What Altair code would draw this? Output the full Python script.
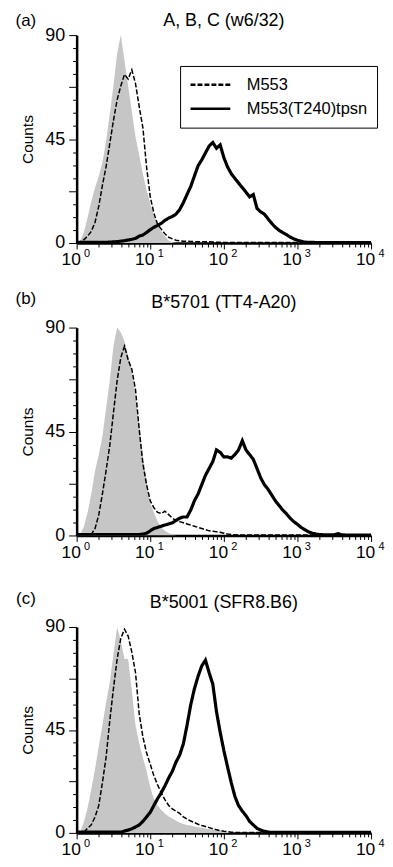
import altair as alt
import pandas as pd

FONT = "Liberation Sans"

# Channel positions on the log axis (fluorescence intensity, 10^0 .. 10^4)
X = [1.00, 1.12, 1.26, 1.41, 1.58, 1.78, 2.00, 2.24, 2.51, 2.82,
     3.16, 3.55, 3.98, 4.47, 5.01, 5.62, 6.31, 7.08, 7.94, 8.91,
     10.0, 11.2, 12.6, 14.1, 15.8, 17.8, 20.0, 22.4, 25.1, 28.2,
     31.6, 35.5, 39.8, 44.7, 50.1, 56.2, 63.1, 70.8, 79.4, 89.1,
     100, 112, 126, 141, 158, 178, 200, 224, 251, 282,
     316, 355, 398, 447, 501, 562, 631, 708, 794, 891,
     1000, 1122, 1259, 1413, 1585, 1778, 1995, 2239, 2512, 2818,
     3162, 3548, 3981, 4467, 5012, 5623, 6310, 7079, 7943, 8913,
     10000]

# Panel (a)
A_GRAY = [0, 1, 5, 11, 18, 24, 29, 35, 44, 56,
          68, 82, 90, 79, 68, 57, 46, 38, 30, 23,
          17, 12, 8, 5, 3, 1, 0.3, 0, 0, 0,
          0, 0, 0, 0, 0, 0, 0, 0, 0, 0,
          0, 0, 0, 0, 0, 0, 0, 0, 0, 0,
          0, 0, 0, 0, 0, 0, 0, 0, 0, 0,
          0, 0, 0, 0, 0, 0, 0, 0, 0, 0,
          0, 0, 0, 0, 0, 0, 0, 0, 0, 0,
          0]
A_M553 = [0.5, 0.5, 1.5, 3, 5, 9, 16, 25, 33, 43,
          53, 62, 68, 73, 71, 75, 69, 59, 50, 33,
          20, 13, 8, 6, 4, 2.5, 1.8, 1.2, 1, 0.8,
          0.8, 0.7, 0.6, 0.5, 0.5, 0.5, 0.5, 0.4, 0.3, 0.3,
          0.2, 0.2, 0.2, 0.2, 0.2, 0.2, 0.2, 0.2, 0.2, 0.2,
          0.2, 0.2, 0.2, 0.2, 0.2, 0.2, 0.2, 0.2, 0.2, 0.2,
          0.2, 0.2, 0.2, 0.2, 0.2, 0.2, 0.2, 0.2, 0.2, 0.2,
          0.2, 0.2, 0.2, 0.2, 0.2, 0.2, 0.2, 0.2, 0.2, 0.2,
          0.2]
A_TPSN = [0.3, 0.3, 0.3, 0.3, 0.3, 0.3, 0.3, 0.3, 0.3, 0.4,
          0.5, 0.6, 0.8, 1, 1.3, 1.6, 2, 3, 3.5, 4.5,
          5.8, 6.8, 7.6, 8.5, 9.8, 10.8, 11.5, 12.5, 14.5, 17.5,
          21, 24.5, 29, 33.5, 36, 39, 42, 43.5, 41, 42.5,
          37, 33, 30, 28, 26, 24, 22, 20, 21, 15,
          13.5, 12.5, 10.5, 8.5, 6.8, 5.5, 4.5, 3.6, 2.6, 1.8,
          1.2, 0.8, 0.4, 0.3, 0.3, 0.2, 0.2, 0.2, 0.2, 0.2,
          0.2, 0.2, 0.2, 0.2, 0.2, 0.2, 0.2, 0.2, 0.2, 0.2,
          0.2]

# Panel (b)
B_GRAY = [0, 0.5, 4, 10, 18, 28, 35, 43, 55, 67,
          82, 90, 88, 84, 78, 72, 60, 48, 35, 24,
          14, 10, 6, 3.5, 2, 1, 0.5, 0, 0, 0,
          0, 0, 0, 0, 0, 0, 0, 0, 0, 0,
          0, 0, 0, 0, 0, 0, 0, 0, 0, 0,
          0, 0, 0, 0, 0, 0, 0, 0, 0, 0,
          0, 0, 0, 0, 0, 0, 0, 0, 0, 0,
          0, 0, 0, 0, 0, 0, 0, 0, 0, 0,
          0]
B_M553 = [0.3, 0.3, 0.3, 0.3, 0.5, 3, 9, 18, 28, 39,
          53, 67, 77, 82, 76, 72, 63, 46, 31, 22,
          15, 12, 10, 9.5, 10.5, 9, 7.5, 6.5, 6, 5.5,
          5, 4.5, 4, 3.5, 3, 2.5, 2, 1.8, 1.6, 1.4,
          1, 0.6, 0.4, 0.3, 0.2, 0.2, 0.2, 0.2, 0.2, 0.2,
          0.2, 0.2, 0.2, 0.2, 0.2, 0.2, 0.2, 0.2, 0.2, 0.2,
          0.2, 0.2, 0.2, 0.2, 0.2, 0.2, 0.2, 0.2, 0.2, 0.2,
          0.2, 0.2, 0.2, 0.2, 0.2, 0.2, 0.2, 0.2, 0.2, 0.2,
          0.2]
B_TPSN = [0.4, 0.4, 0.4, 0.4, 0.4, 0.4, 0.4, 0.4, 0.4, 0.4,
          0.4, 0.4, 0.4, 0.4, 0.4, 0.4, 0.4, 0.4, 0.6, 1,
          2, 3, 3.5, 4, 4.5, 5, 5.5, 6.5, 7.5, 8,
          8, 11, 15, 18, 22, 26, 29, 32, 37, 36,
          34, 34, 33.5, 35, 37, 41, 37, 35, 33, 29,
          25, 22, 20, 17.5, 15, 13, 11, 9.4, 7.5, 6,
          4.8, 3.5, 2.5, 1.6, 1, 0.6, 0.4, 0.3, 0.3, 0.3,
          0.3, 0.8, 0.3, 0.2, 0.2, 0.2, 0.2, 0.2, 0.2, 0.2,
          0.2]

# Panel (c)
C_GRAY = [0, 0.5, 5, 11, 19, 28, 38, 47, 57, 66,
          78, 90, 84, 76, 76, 62, 47, 39, 33, 27,
          20, 15, 12, 10, 8.5, 7.2, 6.3, 5.3, 4.5, 3.9,
          3.5, 3.2, 2.8, 2.5, 2.2, 1.9, 1.6, 1.4, 1.2, 0.9,
          0.6, 0.45, 0.3, 0, 0, 0, 0, 0, 0, 0,
          0, 0, 0, 0, 0, 0, 0, 0, 0, 0,
          0, 0, 0, 0, 0, 0, 0, 0, 0, 0,
          0, 0, 0, 0, 0, 0, 0, 0, 0, 0,
          0]
C_M553 = [0.3, 0.3, 0.5, 2, 3.5, 7, 12, 22, 33, 49,
          63, 76, 85, 89, 86, 79, 70, 52, 42, 35,
          30, 25, 21, 17.5, 14.5, 12, 10.5, 9.5, 8.5, 7,
          6, 5.2, 4.5, 3.8, 3.2, 2.8, 2.3, 1.8, 1.4, 1.0,
          0.7, 0.5, 0.3, 0.2, 0.2, 0.2, 0.2, 0.2, 0.2, 0.2,
          0.2, 0.2, 0.2, 0.2, 0.2, 0.2, 0.2, 0.2, 0.2, 0.2,
          0.2, 0.2, 0.2, 0.2, 0.2, 0.2, 0.2, 0.2, 0.2, 0.2,
          0.2, 0.2, 0.2, 0.2, 0.2, 0.2, 0.2, 0.2, 0.2, 0.2,
          0.2]
C_TPSN = [0.3, 0.3, 0.3, 0.3, 0.3, 0.3, 0.3, 0.3, 0.3, 0.3,
          0.3, 0.3, 0.3, 0.8, 1.2, 1.8, 2.6, 3.5, 5, 7,
          9, 12, 15, 17.5, 20.5, 24, 27, 31, 34, 39,
          47, 56, 63, 68.5, 73, 75.5, 70, 65, 53, 44,
          36, 29, 22, 16, 12, 9.5, 7.5, 5, 3.5, 2,
          1.2, 0.7, 0.4, 0.2, 0.2, 0.2, 0.2, 0.2, 0.2, 0.2,
          0.2, 0.2, 0.2, 0.2, 0.2, 0.2, 0.2, 0.2, 0.2, 0.2,
          0.2, 0.2, 0.2, 0.2, 0.2, 0.2, 0.2, 0.2, 0.2, 0.2,
          0.2]

SERIES = ["M553", "M553(T240)tpsn"]
TITLES = ["A, B, C (w6/32)", "B*5701 (TT4-A20)", "B*5001 (SFR8.B6)"]
TAGS = ["(a)", "(b)", "(c)"]

Y_MID = [0, 22.5, 45, 67.5, 90]
Y_MINOR = [5.625, 11.25, 16.875, 28.125, 33.75, 39.375, 50.625, 56.25,
           61.875, 73.125, 78.75, 84.375]
X_MAJOR = [1, 10, 100, 1000, 10000]
X_MINOR = [2, 3, 4, 5, 6, 7, 8, 9, 20, 30, 40, 50, 60, 70, 80, 90,
           200, 300, 400, 500, 600, 700, 800, 900,
           2000, 3000, 4000, 5000, 6000, 7000, 8000, 9000]

W = 296


def panel(gray, m553, tpsn, title, tag, title_y, tag_y, legend, h):
    g = pd.DataFrame({"x": X, "y": gray})
    d = pd.DataFrame({"x": X, "y": m553, "series": SERIES[0]})
    s = pd.DataFrame({"x": X, "y": tpsn, "series": SERIES[1]})
    xs = alt.Scale(type="log", domain=[1, 10000], nice=False)
    ys = alt.Scale(domain=[0, 90], nice=False, zero=True)
    dash = alt.Scale(domain=SERIES, range=[[5, 2], [1, 0]])
    if legend:
        leg = alt.Legend(title=None, orient="none", legendX=104, legendY=31,
                         strokeColor="black", fillColor="white", padding=9,
                         symbolType="stroke", symbolSize=1600, clipHeight=20,
                         rowPadding=4, labelOffset=15, labelFontSize=16.5,
                         labelFont=FONT, labelColor="black", labelLimit=300,
                         symbolStrokeWidth=2.5, symbolStrokeColor="black",
                         direction="vertical")
    else:
        leg = None

    area = alt.Chart(g).mark_area(color="#c6c6c6", clip=True).encode(
        x=alt.X("x:Q", scale=xs, axis=alt.Axis(
            orient="bottom", values=X_MAJOR, labelExpr="'10'", tickSize=6,
            domainWidth=2.5, labelPadding=2, labelOffset=-6, labelFontSize=17.5,
            labelFont=FONT, labelFlush=False, labelOverlap=False,
            title=None, grid=False)),
        y=alt.Y("y:Q", scale=ys, axis=alt.Axis(
            orient="left", values=Y_MID,
            labelExpr="datum.value % 45 == 0 ? datum.label : ''",
            tickSize=8, domainWidth=2.5, labelPadding=4, labelFontSize=18,
            labelFont=FONT, labelFlush=False, labelOverlap=False,
            title="Counts", titleFont=FONT, titleFontSize=15.5,
            titleFontWeight="normal", titlePadding=9, grid=False)),
    )
    dashed = alt.Chart(d).mark_line(color="black", strokeWidth=1.5, clip=True).encode(
        x=alt.X("x:Q", scale=xs, axis=alt.Axis(
            orient="bottom", values=X_MINOR, labels=False, tickSize=4,
            domain=False, title=None, grid=False)),
        y=alt.Y("y:Q", scale=ys, axis=alt.Axis(
            orient="left", values=Y_MINOR, labels=False, tickSize=4,
            domain=False, title=None, grid=False)),
        strokeDash=alt.StrokeDash("series:N", scale=dash, legend=leg),
    )
    solid = alt.Chart(s).mark_line(color="black", strokeWidth=3.2, clip=True).encode(
        x=alt.X("x:Q", scale=xs, axis=alt.Axis(
            orient="bottom", values=X_MAJOR,
            labelExpr="'' + round(log(datum.value) / LN10)",
            ticks=False, domain=False, labelFontSize=11, labelFont=FONT,
            labelOffset=10, labelPadding=5, labelFlush=False,
            labelOverlap=False, title=None, grid=False)),
        y=alt.Y("y:Q", scale=ys, axis=None),
        strokeDash=alt.StrokeDash("series:N", scale=dash, legend=leg),
    )
    tdf = pd.DataFrame({"t": [title]})
    ttl = alt.Chart(tdf).mark_text(fontSize=18, font=FONT, color="black",
                                   align="center", baseline="middle").encode(
        text="t:N", x=alt.value(W / 2), y=alt.value(title_y))
    gdf = pd.DataFrame({"t": [tag]})
    tg = alt.Chart(gdf).mark_text(fontSize=17, font=FONT, color="black",
                                  align="center", baseline="middle").encode(
        text="t:N", x=alt.value(-51), y=alt.value(tag_y))
    return alt.layer(area, dashed, solid, ttl, tg).resolve_axis(
        x="independent", y="independent").properties(width=W, height=h)


pa = panel(A_GRAY, A_M553, A_TPSN, TITLES[0], TAGS[0], -14, -14, True, 209)
pb = panel(B_GRAY, B_M553, B_TPSN, TITLES[1], TAGS[1], -25, -29, False, 209)
pc = panel(C_GRAY, C_M553, C_TPSN, TITLES[2], TAGS[2], -24, -28, False, 207)

chart = alt.vconcat(
    pa, alt.vconcat(pb, pc, spacing=29), spacing=21
).resolve_scale(strokeDash="independent").configure_view(stroke=None).configure_axis(
    labelColor="black", titleColor="black",
    domainColor="black", tickColor="black", tickWidth=1
).properties(padding={"left": 7, "top": 2, "right": 0, "bottom": 0})

chart.save("out.html", embed_options={"renderer": "svg", "actions": False})
